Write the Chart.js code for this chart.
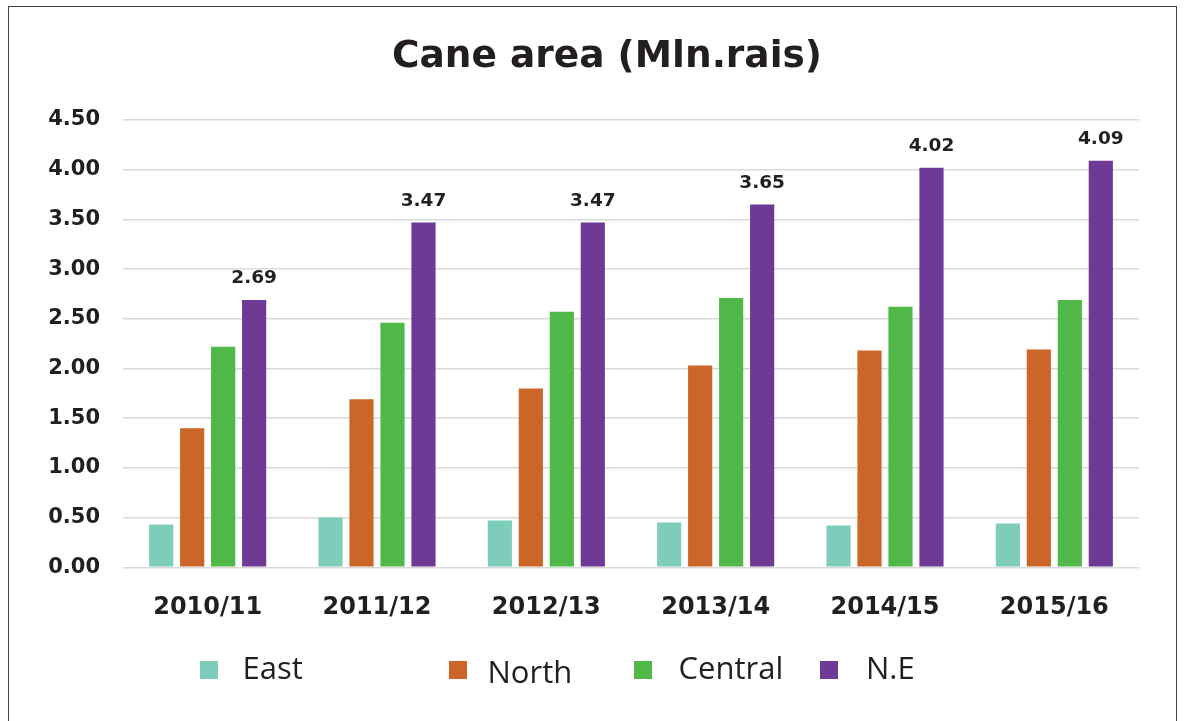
<!DOCTYPE html>
<html>
<head>
<meta charset="utf-8">
<script src="https://cdn.jsdelivr.net/npm/chart.js@4/dist/chart.umd.min.js"></script>
<style>
  html, body { margin: 0; padding: 0; background: #ffffff; }
  #wrap { position: relative; width: 1187px; height: 721px; overflow: hidden; }
  #frame { position: absolute; left: 8px; top: 6px; width: 1169px; height: 760px;
           border: 1.5px solid #454545; box-sizing: border-box; pointer-events: none; }
  canvas { display: block; }
</style>
</head>
<body>
<div id="wrap">
  <canvas id="c" width="1187" height="721"></canvas>
  <div id="frame"></div>
</div>
<script>
const titleText = 'Cane area (Mln.rais)';
const categories = ['2010/11', '2011/12', '2012/13', '2013/14', '2014/15', '2015/16'];
const seriesNames = ['East', 'North', 'Central', 'N.E'];
const eastValues = [0.43, 0.50, 0.47, 0.45, 0.42, 0.44];
const northValues = [1.40, 1.69, 1.80, 2.03, 2.18, 2.19];
const centralValues = [2.22, 2.46, 2.57, 2.71, 2.62, 2.69];
const neValues = [2.69, 3.47, 3.47, 3.65, 4.02, 4.09];
const yTickMin = 0, yTickMax = 4.5, yTickStep = 0.5;

const colors = ['#7ecdbb', '#cb6628', '#50b848', '#6e3a96'];
const textColor = '#231f20';

const titlePlugin = {
  id: 'customTitle',
  afterDraw(chart) {
    const ctx = chart.ctx;
    ctx.save();
    ctx.fillStyle = textColor;
    ctx.font = 'bold 37.5px "DejaVu Sans"';
    ctx.textAlign = 'center';
    ctx.textBaseline = 'alphabetic';
    ctx.fillText(titleText, 607, 66.5);
    ctx.restore();
  }
};

const valueLabelPlugin = {
  id: 'valueLabels',
  afterDatasetsDraw(chart) {
    const ctx = chart.ctx;
    const dsIndex = 3;
    const meta = chart.getDatasetMeta(dsIndex);
    const data = chart.data.datasets[dsIndex].data;
    ctx.save();
    ctx.fillStyle = textColor;
    ctx.font = 'bold 18.5px "DejaVu Sans"';
    ctx.textAlign = 'center';
    ctx.textBaseline = 'middle';
    meta.data.forEach((bar, i) => {
      ctx.fillText(data[i].toFixed(2), bar.x, bar.y - 21.5);
    });
    ctx.restore();
  }
};

const legendPlugin = {
  id: 'customLegend',
  afterDraw(chart) {
    const ctx = chart.ctx;
    const boxX = [200, 449, 634, 820];
    const textX = [242.5, 487.5, 678.5, 866];
    const baseY = [679, 683, 679, 679];
    ctx.save();
    ctx.font = '31px "Open Sans"';
    ctx.textAlign = 'left';
    ctx.textBaseline = 'alphabetic';
    chart.data.datasets.forEach((ds, i) => {
      ctx.fillStyle = ds.backgroundColor;
      ctx.fillRect(boxX[i], 661, 18, 18);
      ctx.fillStyle = textColor;
      ctx.fillText(ds.label, textX[i], baseY[i]);
    });
    ctx.restore();
  }
};

const bgPlugin = {
  id: 'bg',
  beforeDraw(chart) {
    const ctx = chart.ctx;
    ctx.save();
    ctx.fillStyle = '#ffffff';
    ctx.fillRect(0, 0, chart.width, chart.height);
    ctx.restore();
  }
};

const seriesValues = [eastValues, northValues, centralValues, neValues];

new Chart(document.getElementById('c'), {
  type: 'bar',
  data: {
    labels: categories,
    datasets: seriesNames.map((name, i) => ({
      label: name,
      data: seriesValues[i],
      backgroundColor: colors[i],
      borderWidth: 0,
      categoryPercentage: 0.732,
      barPercentage: 0.78
    }))
  },
  options: {
    responsive: false,
    animation: false,
    devicePixelRatio: 1,
    layout: { padding: { left: 0, top: 120, right: 48, bottom: 0 } },
    plugins: {
      legend: { display: false },
      title: { display: false },
      tooltip: { enabled: false }
    },
    scales: {
      x: {
        grid: { display: false, drawTicks: false },
        border: { display: false },
        ticks: {
          color: textColor,
          font: { family: 'DejaVu Sans', weight: 'bold', size: 24 },
          padding: 26,
          maxRotation: 0
        },
        afterFit(scale) { scale.height = 153.7; }
      },
      y: {
        min: yTickMin,
        max: yTickMax,
        grid: { color: '#d9d9d9', lineWidth: 1.5, drawTicks: false },
        border: { display: false },
        ticks: {
          stepSize: yTickStep,
          color: textColor,
          font: { family: 'DejaVu Sans', weight: 'bold', size: 21 },
          padding: 23,
          callback: (v) => Number(v).toFixed(2)
        },
        afterFit(scale) { scale.width = 123; }
      }
    }
  },
  plugins: [bgPlugin, titlePlugin, valueLabelPlugin, legendPlugin]
});
</script>
</body>
</html>
